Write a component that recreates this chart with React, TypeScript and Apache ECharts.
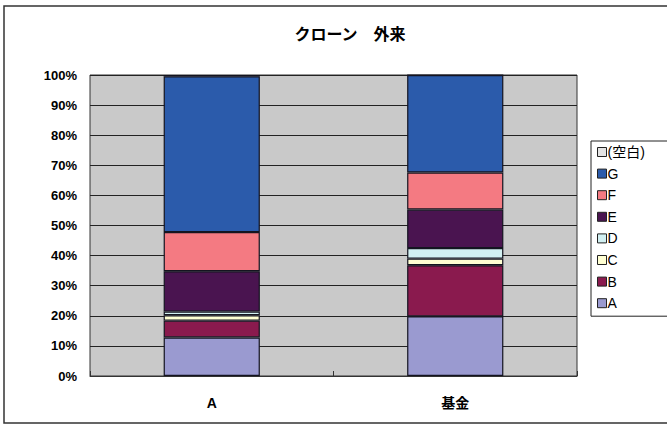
import React, { useEffect, useRef } from "react";
import * as echarts from "echarts";

const categories = ["A", "基金"];
const seriesNames = ["A", "B", "C", "D", "E", "F", "G", "(空白)"];
const valuesA = [12.8, 19.8];
const valuesB = [5.6, 17.0];
const valuesC = [1.8, 2.2];
const valuesD = [1.2, 3.5];
const valuesE = [13.4, 12.8];
const valuesF = [13.0, 12.3];
const valuesG = [51.8, 32.4];
const valuesBlank = [0.4, 0];
const yTicks = [0, 10, 20, 30, 40, 50, 60, 70, 80, 90, 100];
const colors = ["#9a9ad0", "#8a1a4e", "#ffffd2", "#d2f0f2", "#4a1450", "#f47a82", "#2b5bab", "#e4e4e4"];

export default function App() {
  const ref = useRef<HTMLDivElement>(null);
  useEffect(() => {
    document.body.style.margin = "0";
    const chart = echarts.init(ref.current!, null, { renderer: "svg" });
    const allValues = [valuesA, valuesB, valuesC, valuesD, valuesE, valuesF, valuesG, valuesBlank];
    const font = "'Liberation Sans', Arial, 'Noto Sans CJK JP', sans-serif";
    chart.setOption({
      animation: false,
      backgroundColor: "#ffffff",
      title: {
        text: "クローン　外来",
        left: 345,
        top: 20,
        textAlign: "center",
        textStyle: { fontSize: 16, fontWeight: "bold", color: "#000", fontFamily: "'Noto Sans CJK JP', sans-serif" },
      },
      graphic: [
        {
          type: "rect",
          shape: { x: 4, y: 6, width: 700, height: 417 },
          style: { fill: "none", stroke: "#333", lineWidth: 1.5 },
          silent: true,
        },
      ],
      legend: {
        orient: "vertical",
        left: 591,
        top: 141,
        data: ["(空白)", "G", "F", "E", "D", "C", "B", "A"],
        itemWidth: 9,
        itemHeight: 9,
        itemGap: 7.6,
        icon: "rect",
        padding: [4, 40, 6, 6],
        borderColor: "#222",
        borderWidth: 1,
        backgroundColor: "#fff",
        textStyle: { fontSize: 14, color: "#000", fontFamily: font, padding: [0, 0, 0, -4] },
        itemStyle: { borderColor: "#222", borderWidth: 1 },
      },
      grid: {
        left: 90,
        right: 90,
        top: 75,
        bottom: 49,
        show: true,
        backgroundColor: "#c9c9c9",
        borderColor: "#333",
        borderWidth: 1,
      },
      xAxis: {
        type: "category",
        data: categories,
        axisLine: { show: true, lineStyle: { color: "#333" } },
        axisTick: { show: true, inside: true, length: 5, lineStyle: { color: "#333" } },
        axisLabel: { fontSize: 14, fontWeight: "bold", color: "#000", margin: 20, fontFamily: font },
      },
      yAxis: {
        type: "value",
        min: 0,
        max: 100,
        interval: 10,
        axisLine: { show: false },
        axisTick: { show: false },
        axisLabel: {
          fontSize: 13,
          fontWeight: "bold",
          color: "#000",
          margin: 13,
          fontFamily: font,
          formatter: (v: number) => (yTicks.includes(v) ? v + "%" : ""),
        },
        splitLine: { show: true, lineStyle: { color: "#222", width: 1 } },
      },
      series: seriesNames.map((name, i) => ({
        name,
        type: "bar",
        stack: "total",
        barWidth: "39.5%",
        data: allValues[i],
        itemStyle: { color: colors[i], borderColor: "#141420", borderWidth: 1.2 },
      })),
    });
    return () => chart.dispose();
  }, []);
  return <div ref={ref} style={{ width: 667, height: 425 }} />;
}
